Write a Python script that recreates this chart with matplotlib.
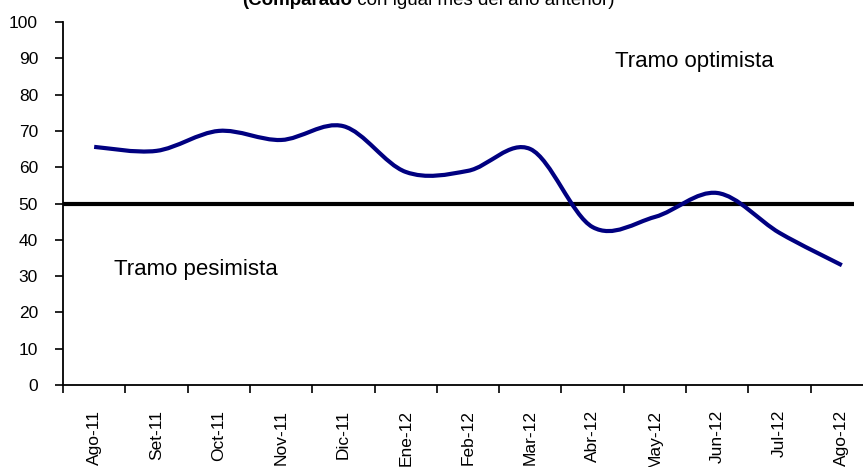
import matplotlib
matplotlib.use("Agg")
import matplotlib.pyplot as plt
from matplotlib.path import Path
from matplotlib.patches import PathPatch
from matplotlib.transforms import IdentityTransform
import numpy as np

plt.rcParams['font.family'] = ['Liberation Sans', 'DejaVu Sans']

categories = ["Ago-11", "Set-11", "Oct-11", "Nov-11", "Dic-11", "Ene-12", "Feb-12",
              "Mar-12", "Abr-12", "May-12", "Jun-12", "Jul-12", "Ago-12"]
values = [65.6, 64.5, 70.0, 67.5, 71.3, 58.7, 59.0, 65.0, 43.5, 46.3, 52.9, 41.9, 33.0]
threshold = 50
yticks = list(range(0, 101, 10))

W, H = 863, 467
fig = plt.figure(figsize=(W / 100, H / 100), dpi=100)
ax = fig.add_axes([63 / W, 82 / H, 810 / W, 363 / H])

# Excel-style smoothed line: cubic Bezier through the data points
x = np.arange(len(values), dtype=float)
y = np.asarray(values, dtype=float)
n = len(x)
verts = [(x[0], y[0])]
codes = [Path.MOVETO]
for i in range(n - 1):
    p0 = np.array([x[max(i - 1, 0)], y[max(i - 1, 0)]])
    p1 = np.array([x[i], y[i]])
    p2 = np.array([x[i + 1], y[i + 1]])
    p3 = np.array([x[min(i + 2, n - 1)], y[min(i + 2, n - 1)]])
    c1 = p1 + (p2 - p0) / 6.0
    c2 = p2 - (p3 - p1) / 6.0
    verts += [tuple(c1), tuple(c2), tuple(p2)]
    codes += [Path.CURVE4] * 3
patch = PathPatch(Path(verts, codes), facecolor='none', edgecolor='#000080',
                  lw=3.0, capstyle='butt', joinstyle='round', zorder=3)
ax.add_patch(patch)

ax.hlines(threshold, -0.55, 12.2, colors='black', lw=3.0, zorder=2)

ax.set_xlim(-0.5, len(categories) - 0.5)
ax.set_ylim(0, 100)

ax.set_yticks(yticks)
ax.set_yticklabels([str(v) for v in yticks])
ax.tick_params(axis='y', direction='out', length=6, width=1.2, pad=12, labelsize=12.5)

ax.set_xticks(np.arange(len(categories)))
ax.set_xticklabels(categories, rotation=90, fontsize=12.5)
ax.tick_params(axis='x', which='major', length=0, pad=18)
ax.set_xticks(np.arange(len(categories) + 1) - 0.5, minor=True)
ax.tick_params(axis='x', which='minor', direction='out', length=6, width=1.2)

for s in ['top', 'right']:
    ax.spines[s].set_visible(False)
for s in ['left', 'bottom']:
    ax.spines[s].set_linewidth(1.3)

ax.text(694, H - 62, "Tramo optimista", fontsize=16, ha='center', va='center',
        transform=IdentityTransform())
ax.text(196, H - 269, "Tramo pesimista", fontsize=16, ha='center', va='center',
        transform=IdentityTransform())

tb = fig.text(242 / W, 1 - 5 / H, "(Comparado", fontsize=13.5, fontweight='bold',
              ha='left', va='baseline')
fig.canvas.draw()
bb = tb.get_window_extent()
fig.text(bb.x1 / W, 1 - 5 / H, " con igual mes del año anterior)", fontsize=13.5,
         ha='left', va='baseline')

fig.savefig("out.png", dpi=100)
